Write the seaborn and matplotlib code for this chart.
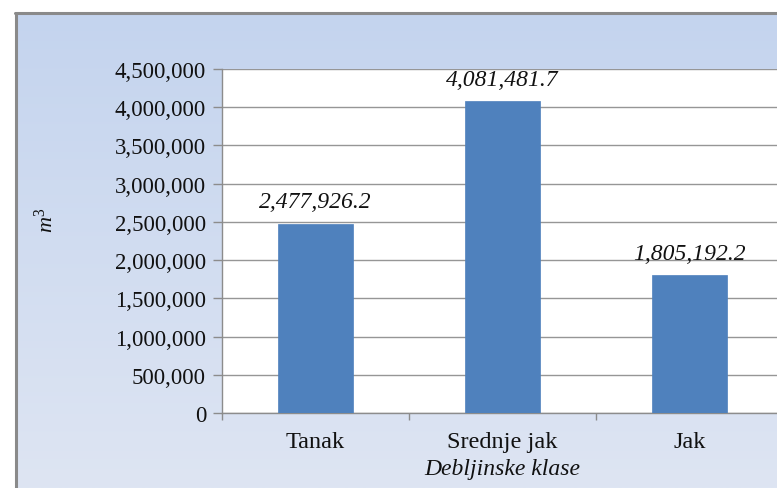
import numpy as np
import pandas as pd
import matplotlib
matplotlib.use("Agg")
import matplotlib.pyplot as plt
from matplotlib.lines import Line2D
from matplotlib.ticker import FuncFormatter, FixedLocator
import seaborn as sns

# Volume by diameter class
categories = ["Tanak", "Srednje jak", "Jak"]
volumes = [2477926.2, 4081481.7, 1805192.2]
value_labels = ["2,477,926.2", "4,081,481.7", "1,805,192.2"]
y_ticks = [0, 500000, 1000000, 1500000, 2000000, 2500000, 3000000, 3500000, 4000000, 4500000]

sns.set_style("white")
plt.rcParams["font.family"] = ["Liberation Serif", "DejaVu Serif"]
plt.rcParams["mathtext.fontset"] = "custom"
plt.rcParams["mathtext.rm"] = "Liberation Serif"
plt.rcParams["mathtext.it"] = "Liberation Serif:italic"

W, H = 777, 489
fig = plt.figure(figsize=(W / 100, H / 100), dpi=100, facecolor="white")

# Chart area: soft vertical blue gradient with a grey frame on the left and top
frame_x, frame_y = 15, 13
bg = fig.add_axes([frame_x / W, 0, 1 - frame_x / W, (H - frame_y) / H], zorder=0)
top_rgb = np.array([196, 212, 238]) / 255
bot_rgb = np.array([222, 229, 243]) / 255
t = np.linspace(0, 1, 256)[:, None, None]
grad = top_rgb[None, None, :] * (1 - t) + bot_rgb[None, None, :] * t
bg.imshow(grad, aspect="auto", extent=[0, 1, 0, 1], interpolation="bilinear")
bg.set_axis_off()
fig.add_artist(Line2D([(frame_x + 0.5) / W] * 2, [0, 1 - (frame_y + 0.5) / H],
                      color="#8a8a8a", lw=2.2, transform=fig.transFigure, zorder=5))
fig.add_artist(Line2D([frame_x / W, 1], [1 - (frame_y + 0.5) / H] * 2,
                      color="#8a8a8a", lw=2.2, transform=fig.transFigure, zorder=5))

# Plot area (extends past the right edge of the canvas)
left_px, top_px, zero_px, cat_px = 222, 70, 414, 187
ax = fig.add_axes([left_px / W, (H - zero_px) / H, 3 * cat_px / W, (zero_px - top_px) / H], zorder=2)
ax.set_facecolor("white")

df = pd.DataFrame({"klasa": categories, "volumen": volumes})
sns.barplot(data=df, x="klasa", y="volumen", color="#4f81bd", saturation=1,
            width=0.4, ax=ax, zorder=3, edgecolor="#4f81bd", linewidth=0.5)

ax.set_xlim(-0.5, 2.5)
ax.set_ylim(0, 4500000)
ax.yaxis.set_major_locator(FixedLocator(y_ticks))
ax.yaxis.set_major_formatter(FuncFormatter(lambda v, p: f"{int(v):,}"))
ax.grid(axis="y", color="#969696", lw=1.0, zorder=1)
ax.set_axisbelow(True)

for side in ["top", "right"]:
    ax.spines[side].set_visible(False)
for side in ["left", "bottom"]:
    ax.spines[side].set_color("#8c8c8c")
    ax.spines[side].set_linewidth(1.0)

ax.tick_params(axis="y", direction="out", length=6.5, width=1, color="#8c8c8c",
               labelsize=16.5, pad=5, left=True, labelcolor="#111111")
# Category dividers as minor ticks; labels on the major ticks
ax.set_xticks([0, 1, 2])
ax.set_xticklabels(categories)
ax.set_xticks([-0.5, 0.5, 1.5, 2.5], minor=True)
ax.tick_params(axis="x", which="major", length=0, labelsize=17.5, pad=13, labelcolor="#111111")
ax.tick_params(axis="x", which="minor", direction="out", length=5, width=1,
               color="#8c8c8c", bottom=True)

for container in ax.containers:
    ax.bar_label(container, labels=value_labels, padding=8, fontsize=17,
                 fontstyle="italic", color="#111111")

ax.set_xlabel("Debljinske klase", fontsize=17, fontstyle="italic", labelpad=4, color="#111111")
ax.set_ylabel("")
fig.text(46 / W, 1 - 220 / H, "$\\mathit{m}^{3}$", rotation=90, ha="center", va="center",
         fontsize=16, color="#111111")

fig.savefig("out.png", dpi=100, facecolor="white")
